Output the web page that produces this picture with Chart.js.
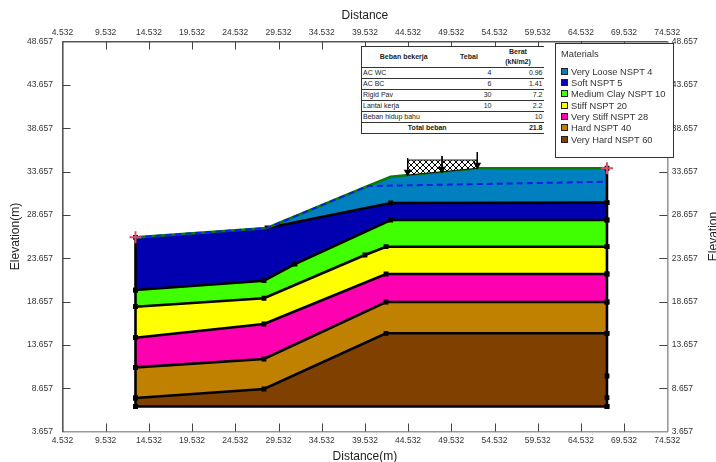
<!DOCTYPE html>
<html>
<head>
<meta charset="utf-8">
<script src="https://cdn.jsdelivr.net/npm/chart.js@4/dist/chart.umd.min.js"></script>
<style>
  html, body { margin: 0; padding: 0; background: #fff; overflow: hidden; }
  #wrap { position: relative; width: 716px; height: 462px; font-family: "Liberation Sans", Arial, sans-serif; }
  #loadTable { position: absolute; left: 361px; top: 46px; width: 182px; border-collapse: collapse; table-layout: fixed;
    font-size: 7px; color: #222; background: #fff; border-left: 1px solid #333; }
  #loadTable td, #loadTable th { padding: 0 1px; height: 10px; line-height: 10px; white-space: nowrap; }
  #loadTable tr { border-bottom: 1px solid #333; }
  #loadTable tr:first-child { border-top: 1px solid #333; }
  #loadTable th { height: 20px; }
  #loadTable .num { text-align: right; }
  #matBox { position: absolute; left: 555px; top: 43px; width: 117px; height: 113px; background: #fff;
    border: 1px solid #333; font-size: 9.3px; color: #333; }
  #matBox .ttl { position: absolute; left: 5px; top: 5px; }
  #matBox .row { position: absolute; left: 5px; height: 12px; line-height: 12px; white-space: nowrap; }
  #matBox .sw { display: inline-block; width: 5px; height: 5px; border: 1px solid #222; margin-right: 3px; vertical-align: 0; }
</style>
</head>
<body>
<div id="wrap">
  <canvas id="slope" width="716" height="462"></canvas>
  <table id="loadTable"></table>
  <div id="matBox"></div>
</div>
<script>
const xTicks = [4.532, 9.532, 14.532, 19.532, 24.532, 29.532, 34.532, 39.532, 44.532, 49.532, 54.532, 59.532, 64.532, 69.532, 74.532];
const yTicks = [3.657, 8.657, 13.657, 18.657, 23.657, 28.657, 33.657, 38.657, 43.657, 48.657];

const materials = ['Very Loose NSPT 4', 'Soft NSPT 5', 'Medium Clay NSPT 10', 'Stiff NSPT 20', 'Very Stiff NSPT 28', 'Hard NSPT 40', 'Very Hard NSPT 60'];
const materialColors = ['#0080BF', '#0000B0', '#40FF00', '#FFFF00', '#FF00B0', '#C08000', '#804000'];

// layer boundaries, [distance, elevation], left to right
const ground = [[12.98, 26.06], [28.2, 27.14], [39.89, 31.98], [42.52, 33.06], [52.62, 34.03], [67.55, 34.03]];
const looseBase = [[28.2, 27.14], [42.52, 30.02], [67.55, 30.06]];
const softBase = [[12.98, 19.98], [27.85, 21.06], [31.44, 22.98], [42.52, 28.06], [67.55, 28.06]];
const mediumBase = [[12.98, 18.06], [27.85, 19.03], [39.54, 24.02], [41.98, 24.98], [67.55, 24.98]];
const stiffBase = [[12.98, 14.48], [27.85, 16.06], [41.98, 21.83], [67.55, 21.83]];
const veryStiffBase = [[12.98, 11.06], [27.85, 12.02], [41.98, 18.6], [67.55, 18.6]];
const hardBase = [[12.98, 7.52], [27.85, 8.56], [41.98, 14.99], [67.55, 14.99]];
const bottom = [[12.98, 6.54], [67.55, 6.54]];

const waterTable = [[12.98, 26.06], [28.2, 27.14], [39.89, 31.98], [52.94, 32.21], [67.55, 32.48]];
const rightEdge = [[67.55, 34.03], [67.55, 30.06], [67.55, 28.06], [67.55, 24.98], [67.55, 21.83], [67.55, 18.6], [67.55, 14.99], [67.55, 10.06], [67.55, 7.56], [67.55, 6.54]];
const leftEdge = [[12.98, 26.06], [12.98, 19.98], [12.98, 18.06], [12.98, 14.48], [12.98, 11.06], [12.98, 7.52], [12.98, 6.54]];
const slipEnds = [[12.98, 26.06], [67.55, 34.03]];

const loadArea = [[44.48, 34.98], [52.54, 34.98], [52.54, 34.03], [44.48, 33.25], [44.48, 34.98]];
const loadArrows = [
  [[44.48, 35.2], [44.48, 33.6]],
  [[48.46, 35.45], [48.46, 33.95]],
  [[52.54, 35.9], [52.54, 34.4]]
];

const tableHead = ['Beban bekerja', 'Tebal', 'Berat<br>(kN/m2)'];
const tableRows = [
  ['AC WC', '4', '0.96'],
  ['AC BC', '6', '1.41'],
  ['Rigid Pav', '30', '7.2'],
  ['Lantai kerja', '10', '2.2'],
  ['Beban hidup bahu', '', '10']
];
const tableTotal = ['Total beban', '21.8'];

function pts(list) {
  return list.map(p => ({ x: p[0], y: p[1] }));
}

// polygon from a top boundary and a base boundary
function layer(top, base) {
  return pts(top.concat(base.slice().reverse()));
}

function hatchPattern() {
  const c = document.createElement('canvas');
  c.width = 6; c.height = 6;
  const g = c.getContext('2d');
  g.fillStyle = '#fff';
  g.fillRect(0, 0, 6, 6);
  g.strokeStyle = '#000';
  g.lineWidth = 1;
  g.beginPath();
  g.moveTo(0, 0); g.lineTo(6, 6);
  g.moveTo(6, 0); g.lineTo(0, 6);
  g.stroke();
  return g.createPattern(c, 'repeat');
}

function fillSet(data, color) {
  return { type: 'scatter', data: data, showLine: true, fill: 'shape', backgroundColor: color, borderColor: color, borderWidth: 0, pointRadius: 0 };
}

function edgeSet(list) {
  return { type: 'scatter', data: pts(list), showLine: true, borderColor: '#000', borderWidth: 2.6, pointStyle: 'rect', pointRadius: 3.4, pointBackgroundColor: '#000', pointBorderColor: '#000', pointBorderWidth: 0 };
}

const softTop = [ground[0]].concat(looseBase);
const datasets = [
  fillSet(layer(ground.slice(1), looseBase.slice(1)), materialColors[0]),
  fillSet(layer(softTop, softBase), materialColors[1]),
  fillSet(layer(softBase, mediumBase), materialColors[2]),
  fillSet(layer(mediumBase, stiffBase), materialColors[3]),
  fillSet(layer(stiffBase, veryStiffBase), materialColors[4]),
  fillSet(layer(veryStiffBase, hardBase), materialColors[5]),
  fillSet(layer(hardBase, bottom), materialColors[6]),
  edgeSet(looseBase),
  edgeSet(softBase),
  edgeSet(mediumBase),
  edgeSet(stiffBase),
  edgeSet(veryStiffBase),
  edgeSet(hardBase),
  edgeSet(bottom),
  edgeSet(rightEdge),
  edgeSet(leftEdge),
  // ground surface
  { type: 'scatter', data: pts(ground), showLine: true, borderColor: '#0A7A0A', borderWidth: 2.6, pointRadius: 0 },
  // water table
  { type: 'scatter', data: pts(waterTable), showLine: true, borderColor: '#0A1EE6', borderWidth: 2, borderDash: [6, 4], pointRadius: 0 },
  // applied load
  { type: 'scatter', data: pts(loadArea), showLine: true, fill: 'shape', backgroundColor: hatchPattern(), borderColor: '#111', borderWidth: 1, pointRadius: 0 }
];

loadArrows.forEach(a => {
  datasets.push({
    type: 'scatter', data: pts(a), showLine: true, borderColor: '#000', borderWidth: 1,
    pointStyle: 'triangle', pointRotation: 180, pointRadius: [0, 4.5], pointBackgroundColor: '#000', pointBorderColor: '#000', pointBorderWidth: 0
  });
});

datasets.push({
  type: 'scatter', data: pts(slipEnds), showLine: false, pointStyle: 'cross', pointRadius: 6,
  pointBorderColor: '#D9506A', pointBorderWidth: 2
});

// chart.js paints the first dataset last, the list above goes bottom to top
datasets.reverse();

function fixTicks(values) {
  return scale => { scale.ticks = values.map(v => ({ value: v })); };
}

function fmt(v) {
  return v.toFixed(3);
}

const tickFont = { family: '"Liberation Sans", Arial, sans-serif', size: 8.5 };
const titleFont = { family: '"Liberation Sans", Arial, sans-serif', size: 12 };

function axis(position, values, min, max, borderColor, padding, size) {
  const horizontal = position === 'top' || position === 'bottom';
  return {
    type: 'linear', position: position, min: min, max: max,
    afterBuildTicks: fixTicks(values),
    afterFit: s => { if (horizontal) s.height = size; else s.width = size; },
    border: { color: borderColor, width: 1.6 },
    grid: { drawOnChartArea: false, drawTicks: false },
    ticks: { callback: fmt, autoSkip: false, maxRotation: 0, minRotation: 0, padding: padding, font: tickFont, color: '#333' }
  };
}

const scales = {
  x: axis('bottom', xTicks, 4.532, 74.532, '#999', 4, 30.5),
  x2: axis('top', xTicks, 4.532, 74.532, '#555', 4, 41.5),
  y: axis('left', yTicks, 3.657, 48.657, '#555', 9.5, 62.5),
  y2: axis('right', yTicks, 3.657, 48.657, '#999', 4.5, 48.7)
};
scales.x.title = { display: true, text: 'Distance(m)', font: titleFont, color: '#222', padding: { top: 0, bottom: -2 } };
scales.x2.title = { display: true, text: 'Distance', font: titleFont, color: '#222', padding: { top: 8, bottom: 0 } };
scales.y.title = { display: true, text: 'Elevation(m)', font: titleFont, color: '#222', padding: { top: 8, bottom: 0 } };

// tick marks point into the plot on all four sides
const innerTicks = {
  id: 'innerTicks',
  afterDatasetsDraw(chart) {
    const a = chart.chartArea;
    const ctx = chart.ctx;
    const s = chart.scales;
    ctx.save();
    ctx.strokeStyle = '#444';
    ctx.lineWidth = 1;
    ctx.beginPath();
    xTicks.slice(1, -1).forEach(v => {
      const px = Math.round(s.x.getPixelForValue(v)) + 0.5;
      ctx.moveTo(px, a.top); ctx.lineTo(px, a.top + 8);
      ctx.moveTo(px, a.bottom); ctx.lineTo(px, a.bottom - 8);
    });
    yTicks.slice(1, -1).forEach(v => {
      const py = Math.round(s.y.getPixelForValue(v)) + 0.5;
      ctx.moveTo(a.left, py); ctx.lineTo(a.left + 8, py);
      ctx.moveTo(a.right, py); ctx.lineTo(a.right - 8, py);
    });
    ctx.stroke();
    ctx.restore();
  }
};

// right hand title reads upward in the reference, the built in one reads downward
const rightTitle = {
  id: 'rightTitle',
  afterDraw(chart) {
    const a = chart.chartArea;
    const ctx = chart.ctx;
    ctx.save();
    ctx.translate(714, (a.top + a.bottom) / 2);
    ctx.rotate(-Math.PI / 2);
    ctx.font = '12px "Liberation Sans", Arial, sans-serif';
    ctx.fillStyle = '#222';
    ctx.textAlign = 'center';
    ctx.textBaseline = 'middle';
    ctx.fillText('Elevation', 0, 0);
    ctx.restore();
  }
};

new Chart(document.getElementById('slope'), {
  type: 'scatter',
  data: { datasets: datasets },
  options: {
    responsive: false,
    animation: false,
    layout: { padding: 0 },
    scales: scales,
    plugins: { legend: { display: false }, tooltip: { enabled: false }, title: { display: false } }
  },
  plugins: [innerTicks, rightTitle]
});

// load table
let html = '<colgroup><col style="width:84px"><col style="width:47px"><col style="width:51px"></colgroup>';
html += '<tr><th>' + tableHead[0] + '</th><th>' + tableHead[1] + '</th><th>' + tableHead[2] + '</th></tr>';
tableRows.forEach(r => {
  html += '<tr><td>' + r[0] + '</td><td class="num">' + r[1] + '</td><td class="num">' + r[2] + '</td></tr>';
});
html += '<tr><th colspan="2" style="height:10px;text-align:center">' + tableTotal[0] + '</th><th class="num" style="height:10px">' + tableTotal[1] + '</th></tr>';
document.getElementById('loadTable').innerHTML = html;

// materials box
let box = '<div class="ttl">Materials</div>';
materials.forEach((m, i) => {
  box += '<div class="row" style="top:' + (21.5 + i * 11.35) + 'px"><span class="sw" style="background:' + materialColors[i] + '"></span>' + m + '</div>';
});
document.getElementById('matBox').innerHTML = box;
</script>
</body>
</html>
